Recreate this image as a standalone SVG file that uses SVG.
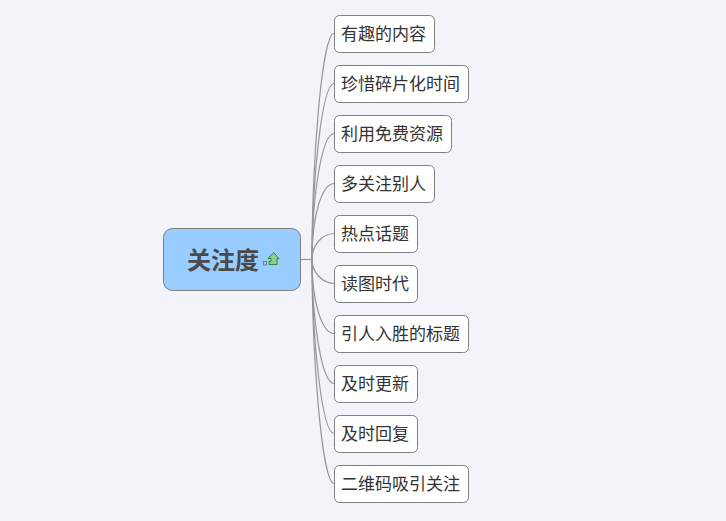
<svg xmlns="http://www.w3.org/2000/svg" width="726" height="521" viewBox="0 0 726 521">
<style>
.bg{fill:#f2f4fa}
.c{fill:none;stroke:#969696;stroke-width:1.2}
.leaf rect{fill:#fff;stroke:#808080;stroke-width:1}
.leaf text{font-family:"Noto Sans CJK SC","Liberation Sans",sans-serif;font-size:17px;fill:#333}
#root rect{fill:#99ccff;stroke:#808080;stroke-width:1}
#root text{font-family:"Noto Sans CJK SC","Liberation Sans",sans-serif;font-size:24px;font-weight:700;fill:#4a4a4a}
</style>
<rect class="bg" width="726" height="521"/>
<g id="connectors">
<path class="c" d="M300 259.500H312"/>
<path class="c" d="M312 259.500C312 160 322 34 334 33.500"/>
<path class="c" d="M312 259.500C312 180 322 84 334 83.500"/>
<path class="c" d="M312 259.500C312 195 322 134 334 133.500"/>
<path class="c" d="M312 259.500C312 215 322 184 334 183.500"/>
<path class="c" d="M312 259.500C312 245 322 234 334 233.500"/>
<path class="c" d="M312 259.500C312 272 322 283 334 283.500"/>
<path class="c" d="M312 259.500C312 303 322 333 334 333.500"/>
<path class="c" d="M312 259.500C312 323 322 383 334 383.500"/>
<path class="c" d="M312 259.500C312 340 322 433 334 433.500"/>
<path class="c" d="M312 259.500C312 358 322 483 334 483.500"/>
</g>
<g id="root">
<rect x="163.500" y="228.500" width="137" height="62" rx="9"/>
<text x="187" y="269">关注度</text>
<rect x="263.500" y="261.500" width="3" height="3.500" fill="#fff" stroke="#2e6fc0" stroke-width="1"/>
<path d="M273.500 252.500L279 258.500H277V264.500H269V261.500H271V258.500H268Z" fill="#8fce8f" stroke="#2c8a3c" stroke-width="1"/>
</g>
<g id="n1" class="leaf"><rect x="334.500" y="15.500" width="100" height="37" rx="5"/><text x="341" y="40">有趣的内容</text></g>
<g id="n2" class="leaf"><rect x="334.500" y="65.500" width="134" height="37" rx="5"/><text x="341" y="90">珍惜碎片化时间</text></g>
<g id="n3" class="leaf"><rect x="334.500" y="115.500" width="117" height="37" rx="5"/><text x="341" y="140">利用免费资源</text></g>
<g id="n4" class="leaf"><rect x="334.500" y="165.500" width="100" height="37" rx="5"/><text x="341" y="190">多关注别人</text></g>
<g id="n5" class="leaf"><rect x="334.500" y="215.500" width="83" height="37" rx="5"/><text x="341" y="240">热点话题</text></g>
<g id="n6" class="leaf"><rect x="334.500" y="265.500" width="83" height="37" rx="5"/><text x="341" y="290">读图时代</text></g>
<g id="n7" class="leaf"><rect x="334.500" y="315.500" width="134" height="37" rx="5"/><text x="341" y="340">引人入胜的标题</text></g>
<g id="n8" class="leaf"><rect x="334.500" y="365.500" width="83" height="37" rx="5"/><text x="341" y="390">及时更新</text></g>
<g id="n9" class="leaf"><rect x="334.500" y="415.500" width="83" height="37" rx="5"/><text x="341" y="440">及时回复</text></g>
<g id="n10" class="leaf"><rect x="334.500" y="465.500" width="134" height="37" rx="5"/><text x="341" y="490">二维码吸引关注</text></g>
</svg>
